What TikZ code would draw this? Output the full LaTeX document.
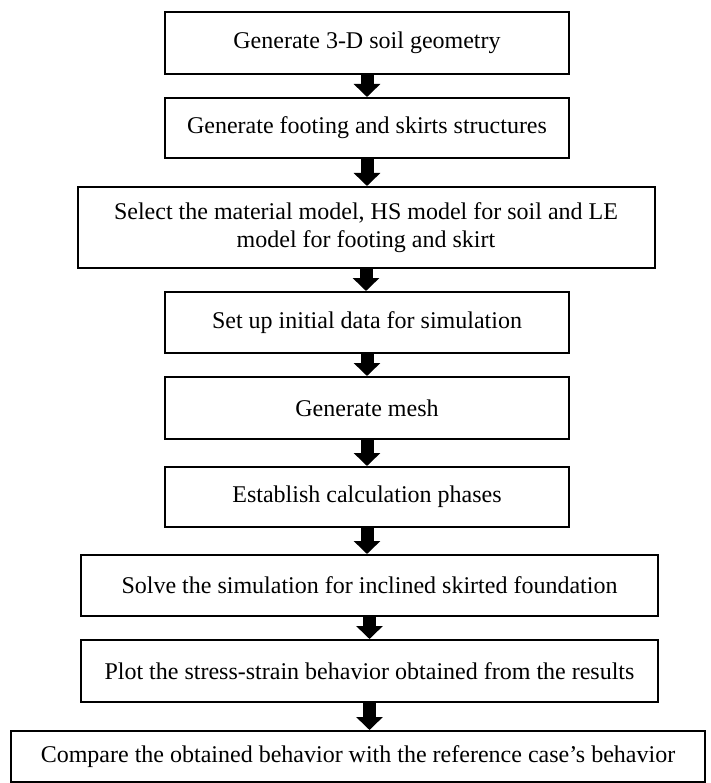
\documentclass[tikz,border=0pt]{standalone}
\usepackage{fontspec}
\setmainfont{Liberation Serif}
\usetikzlibrary{arrows.meta}

\tikzset{
	caja/.style={draw=black, line width=2pt, rectangle, inner sep=0pt, align=center, font=\fontsize{24}{28}\selectfont},
	cajaA/.style={caja, minimum width=404pt},
	cajaB/.style={caja, minimum width=577pt},
	flecha/.style={draw=black, line width=13pt, -{Triangle[length=13pt,width=26pt]}}
}

\begin{document}
\begin{tikzpicture}[x=1pt, y=-1pt]
	%\draw[draw = red, line width =2pt] (0,0) rectangle (710,783);
	\useasboundingbox (0,0) rectangle (710,783);
	
	% Cajas del proceso
	\node[cajaA, minimum height=62pt] (geo) at (367,43) {Generate 3-D soil geometry};
	\node[cajaA, minimum height=60pt] (zap) at (367,128) {Generate footing and skirts structures};
	\node[cajaB, minimum height=81pt] (mat) at (366,227.5) {Select the material model, HS model for soil and LE\\model for footing and skirt};
	\node[cajaA, minimum height=61pt] (ini) at (367,322.5) {Set up initial data for simulation};
	\node[cajaA, minimum height=62pt] (mal) at (367,408) {Generate mesh};
	\node[cajaA, minimum height=60pt] (fas) at (367,497) {Establish calculation phases};
	\node[cajaB, minimum height=61pt] (sol) at (369.5,585.5) {Solve the simulation for inclined skirted foundation};
	\node[cajaB, minimum height=62pt] (gra) at (369.5,671) {Plot the stress-strain behavior obtained from the results};
	\node[caja, minimum width=694pt, minimum height=51pt] (com) at (358,756.5) {Compare the obtained behavior with the reference case’s behavior};
	
	% Flechas entre cajas
	\draw[flecha] (geo.south) -- (geo.south |- zap.north);
	\draw[flecha] (zap.south) -- (zap.south |- mat.north);
	\draw[flecha] (mat.south) -- (mat.south |- ini.north);
	\draw[flecha] (ini.south) -- (ini.south |- mal.north);
	\draw[flecha] (mal.south) -- (mal.south |- fas.north);
	\draw[flecha] (fas.south) -- (fas.south |- sol.north);
	\draw[flecha] (sol.south) -- (sol.south |- gra.north);
	\draw[flecha] (gra.south) -- (gra.south |- com.north);
	
\end{tikzpicture}
\end{document}
